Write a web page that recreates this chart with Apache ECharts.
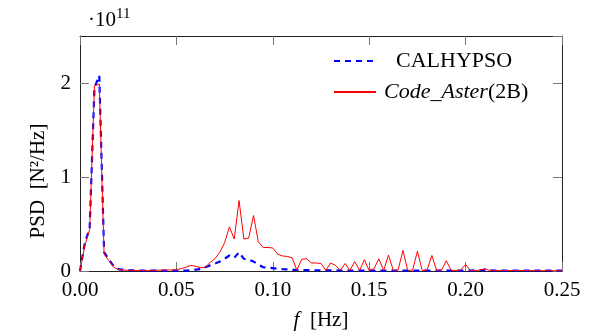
<!DOCTYPE html>
<html>
<head>
<meta charset="utf-8">
<script src="https://cdn.jsdelivr.net/npm/echarts@6/dist/echarts.min.js"></script>
<style>
  html, body { margin: 0; padding: 0; background: #fff; }
  #chart { width: 593px; height: 336px; }
</style>
</head>
<body>
<div id="chart"></div>
<script>
// frequency step of the spectra (Hz)
var df = 0.0025;
var yTicks = [0, 1, 2];

// PSD values in units of 1e11 N^2/Hz
var calhypso = [
    0, 0.30, 0.45, 1.95, 2.08, 0.20, 0.12, 0.05, 0.02, 0.012,
    0.008, 0.006, 0.005, 0.004, 0.004, 0.004, 0.004, 0.004, 0.004, 0.004,
    0.004, 0.004, 0.005, 0.008, 0.015, 0.02, 0.04, 0.06, 0.08, 0.10,
    0.13, 0.165, 0.14, 0.20, 0.13, 0.12, 0.10, 0.07, 0.04, 0.035,
    0.03, 0.025, 0.02, 0.017, 0.013, 0.011, 0.01, 0.009, 0.008, 0.008,
    0.007, 0.007, 0.006, 0.006, 0.005, 0.005, 0.005, 0.005, 0.004, 0.004,
    0.004, 0.004, 0.004, 0.004, 0.004, 0.003, 0.003, 0.003, 0.003, 0.003,
    0.003, 0.003, 0.003, 0.003, 0.003, 0.003, 0.003, 0.003, 0.003, 0.004,
    0.004, 0.005, 0.006, 0.008, 0.01, 0.006, 0.004, 0.003, 0.003, 0.003,
    0.003, 0.003, 0.003, 0.003, 0.003, 0.003, 0.003, 0.003, 0.003, 0.003,
    0.003
];
var codeAster = [
    0, 0.27, 0.44, 1.97, 1.99, 0.18, 0.11, 0.04, 0.015, 0.01,
    0.008, 0.006, 0.005, 0.005, 0.006, 0.006, 0.008, 0.01, 0.01, 0.012,
    0.015, 0.025, 0.04, 0.06, 0.05, 0.035, 0.04, 0.09, 0.13, 0.20,
    0.30, 0.47, 0.34, 0.75, 0.34, 0.35, 0.59, 0.31, 0.25, 0.25,
    0.245, 0.18, 0.16, 0.155, 0.14, 0.01, 0.125, 0.13, 0.085, 0.085,
    0.08, 0.007, 0.085, 0.06, 0.007, 0.08, 0.005, 0.10, 0.005, 0.12,
    0.005, 0.025, 0.13, 0.005, 0.17, 0.005, 0.01, 0.22, 0.005, 0.01,
    0.21, 0.005, 0.01, 0.165, 0.005, 0.01, 0.11, 0.005, 0.005, 0.01,
    0.07, 0.005, 0.005, 0.008, 0.025, 0.005, 0.004, 0.006, 0.003, 0.005,
    0.004, 0.006, 0.004, 0.003, 0.005, 0.004, 0.003, 0.004, 0.003, 0.004,
    0.003
];

function toPairs(arr) {
    return arr.map(function (v, i) { return [i * df, v]; });
}

var serif = 'Liberation Serif';
var tickColor = '#777';
var frameColor = '#222';

function frameAxis(extra) {
    var ax = {
        type: 'value',
        axisLine: { show: true, onZero: false, lineStyle: { color: frameColor, width: 1 } },
        axisTick: { show: true, inside: true, length: 9, lineStyle: { color: tickColor } },
        axisLabel: { show: false },
        splitLine: { show: false }
    };
    for (var k in extra) ax[k] = extra[k];
    return ax;
}

var chart = echarts.init(document.getElementById('chart'));
var option = {
    animation: false,
    backgroundColor: '#fff',
    textStyle: { fontFamily: serif, color: '#000' },
    grid: { left: 80, right: 31, top: 36, bottom: 62 },
    legend: [
        {
            data: ['CALHYPSO'],
            left: 333, top: 50, padding: 0,
            itemWidth: 42, itemHeight: 20,
            itemStyle: { color: 'transparent', borderWidth: 0 },
            textStyle: { fontFamily: serif, fontSize: 22, color: '#000', padding: [0, 0, 0, 15] }
        },
        {
            data: ['Code_Aster(2B)'],
            left: 333, top: 81, padding: 0,
            itemWidth: 42, itemHeight: 20,
            itemStyle: { color: 'transparent', borderWidth: 0 },
            formatter: function () { return '{i|Code_Aster}{n|(2B)}'; },
            textStyle: {
                fontFamily: serif, fontSize: 22, color: '#000', padding: [0, 0, 0, 3],
                rich: {
                    i: { fontFamily: serif, fontSize: 22, fontStyle: 'italic', color: '#000' },
                    n: { fontFamily: serif, fontSize: 22, color: '#000' }
                }
            }
        }
    ],
    xAxis: [
        frameAxis({
            min: 0, max: 0.25, interval: 0.05, position: 'bottom',
            name: '{i|f}  [Hz]', nameLocation: 'middle', nameGap: 39,
            nameTextStyle: {
                fontFamily: serif, fontSize: 21, color: '#000',
                rich: {
                    i: { fontFamily: serif, fontSize: 21, fontStyle: 'italic', color: '#000' }
                }
            },
            axisLabel: {
                show: true, margin: 9, fontSize: 21, fontFamily: serif, color: '#000',
                formatter: function (v) { return v.toFixed(2); }
            }
        }),
        frameAxis({ min: 0, max: 0.25, interval: 0.05, position: 'top' })
    ],
    yAxis: [
        frameAxis({
            min: 0, max: 2.5, interval: 1, position: 'left',
            axisLabel: {
                show: true, margin: 9, fontSize: 21, fontFamily: serif, color: '#000',
                showMaxLabel: false,
                formatter: function (v) { return yTicks.indexOf(v) >= 0 ? String(v) : ''; }
            }
        }),
        frameAxis({ min: 0, max: 2.5, interval: 1, position: 'right' })
    ],
    graphic: [
        {
            type: 'text', left: 88, top: 10,
            style: { text: '·10', font: '21px "Liberation Serif"', fill: '#000' }
        },
        {
            type: 'text', left: 116, top: 7,
            style: { text: '11', font: '15px "Liberation Serif"', fill: '#000' }
        },
        {
            type: 'text', x: 38, y: 181, rotation: Math.PI / 2,
            style: {
                text: 'PSD  [N²/Hz]', font: '21px "Liberation Serif"', fill: '#000',
                align: 'center', verticalAlign: 'middle'
            }
        }
    ],
    series: [
        {
            name: 'CALHYPSO',
            type: 'line',
            data: toPairs(calhypso),
            showSymbol: false, symbol: 'none',
            lineStyle: { color: '#0000ff', width: 2.2, type: [6, 5] },
            itemStyle: { color: '#0000ff' },
            z: 2
        },
        {
            name: 'Code_Aster(2B)',
            type: 'line',
            data: toPairs(codeAster),
            showSymbol: false, symbol: 'none',
            lineStyle: { color: '#ff0000', width: 1 },
            itemStyle: { color: '#ff0000' },
            z: 3
        }
    ]
};
chart.setOption(option);
</script>
</body>
</html>
